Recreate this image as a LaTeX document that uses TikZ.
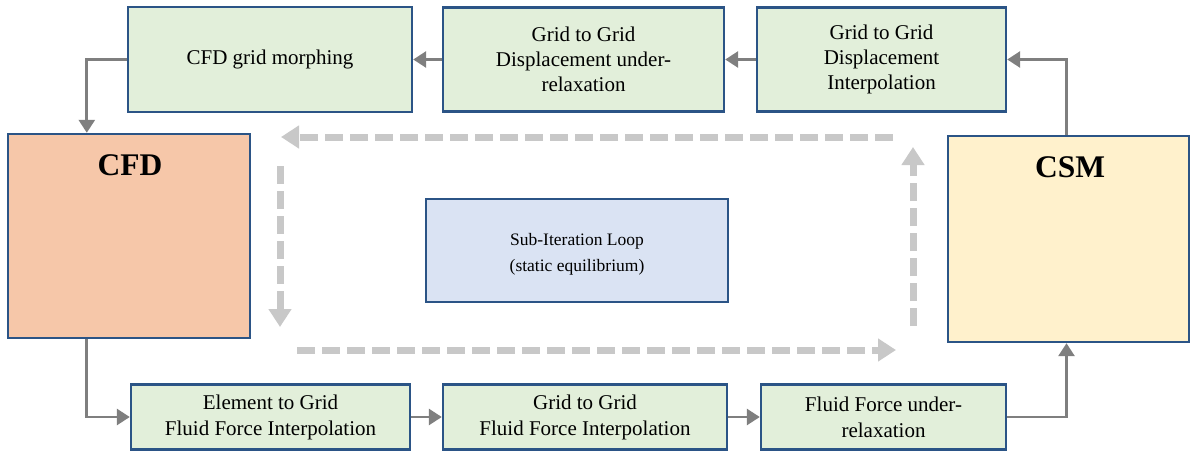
\documentclass[tikz,border=0pt]{standalone}
\usepackage{fontspec}
\setmainfont{Liberation Serif}
\usetikzlibrary{arrows.meta}

\definecolor{boxline}{HTML}{2B5486}
\definecolor{stepfill}{HTML}{E2EFDA}
\definecolor{cfdfill}{HTML}{F6C7A9}
\definecolor{csmfill}{HTML}{FFF1CC}
\definecolor{loopfill}{HTML}{DAE3F3}
\definecolor{connline}{HTML}{7F7F7F}
\definecolor{loopline}{HTML}{C8C8C8}

\begin{document}
\begin{tikzpicture}[x=1pt,y=-1pt,
  blockbox/.style={draw=boxline, line width=2.4pt, inner sep=0pt, align=center,
    font=\fontsize{21}{25}\selectfont},
  stepbox/.style={blockbox, fill=stepfill},
  lowbox/.style={stepbox, font=\fontsize{21}{26}\selectfont},
  solverbox/.style={draw=boxline, line width=2.4pt, inner sep=0pt},
  bigtxt/.style={font=\fontsize{31.5}{36}\selectfont\bfseries, anchor=base, inner sep=0pt},
  looptxt/.style={font=\fontsize{17.5}{26}\selectfont, align=center, inner sep=0pt},
  conn/.style={draw=connline, line width=2.8pt, -{Triangle[width=16pt,length=13pt]}},
  loopconn/.style={draw=loopline, line width=7pt, dash pattern=on 18pt off 7pt,
    -{Triangle[width=22pt,length=18pt]}}
]
\useasboundingbox (0,0) rectangle (1191,455);

% displacement path (top row)
\node[stepbox, minimum width=284pt, minimum height=105pt] (morph) at (270,59.5) {CFD grid morphing};
\node[stepbox, minimum width=281pt, minimum height=104pt] (durel) at (583.5,59.5) {Grid to Grid\\Displacement under-\\relaxation};
\node[stepbox, minimum width=249pt, minimum height=104pt] (dint) at (881.5,59.5) {Grid to Grid\\Displacement\\Interpolation};

% solvers
\node[solverbox, fill=cfdfill, minimum width=242pt, minimum height=204pt] (cfd) at (129,236) {};
\node[bigtxt] (cfdt) at (130,175) {CFD};
\node[solverbox, fill=csmfill, minimum width=241pt, minimum height=206pt] (csm) at (1068.5,239) {};
\node[bigtxt] (csmt) at (1070,177) {CSM};

% loop label
\node[solverbox, fill=loopfill, minimum width=302pt, minimum height=103pt,
  label={[looptxt, yshift=-4pt]center:{Sub-Iteration Loop\\(static equilibrium)}}] (loop) at (577,250.5) {};

% force path (bottom row)
\node[lowbox, minimum width=279pt, minimum height=65pt] (eint) at (270.5,417) {Element to Grid\\Fluid Force Interpolation};
\node[lowbox, minimum width=284pt, minimum height=65pt] (gint) at (585,417) {Grid to Grid\\Fluid Force Interpolation};
\node[lowbox, minimum width=245pt, minimum height=65pt] (frel) at (883.5,417) {Fluid Force under-\\relaxation};

% solid connectors
\draw[conn] (morph.west) -| ([xshift=80pt]cfd.north west);
\draw[conn] (durel.west) -- (durel.west -| morph.east);
\draw[conn] (dint.west) -- (dint.west -| durel.east);
\draw[conn] ([xshift=-2pt]csm.north) |- (dint.east);
\draw[conn] ([xshift=80pt]cfd.south west) |- (eint.west);
\draw[conn] (eint.east) -- (eint.east -| gint.west);
\draw[conn] (gint.east) -- (gint.east -| frel.west);
\draw[conn] (frel.east) -| ([xshift=-2pt]csm.south);

% dashed sub-iteration loop
\coordinate (lt1) at (893,137);
\coordinate (lt2) at (281,137);
\coordinate (ll1) at (280,166);
\coordinate (ll2) at (280,327);
\coordinate (lb1) at (297,350);
\coordinate (lb2) at (896,350);
\coordinate (lr1) at (913,326);
\coordinate (lr2) at (913,147);
\draw[loopconn] (lt1) -- (lt2);
\draw[loopconn] (ll1) -- (ll2);
\draw[loopconn] (lb1) -- (lb2);
\draw[loopconn] (lr1) -- (lr2);
\end{tikzpicture}
\end{document}
